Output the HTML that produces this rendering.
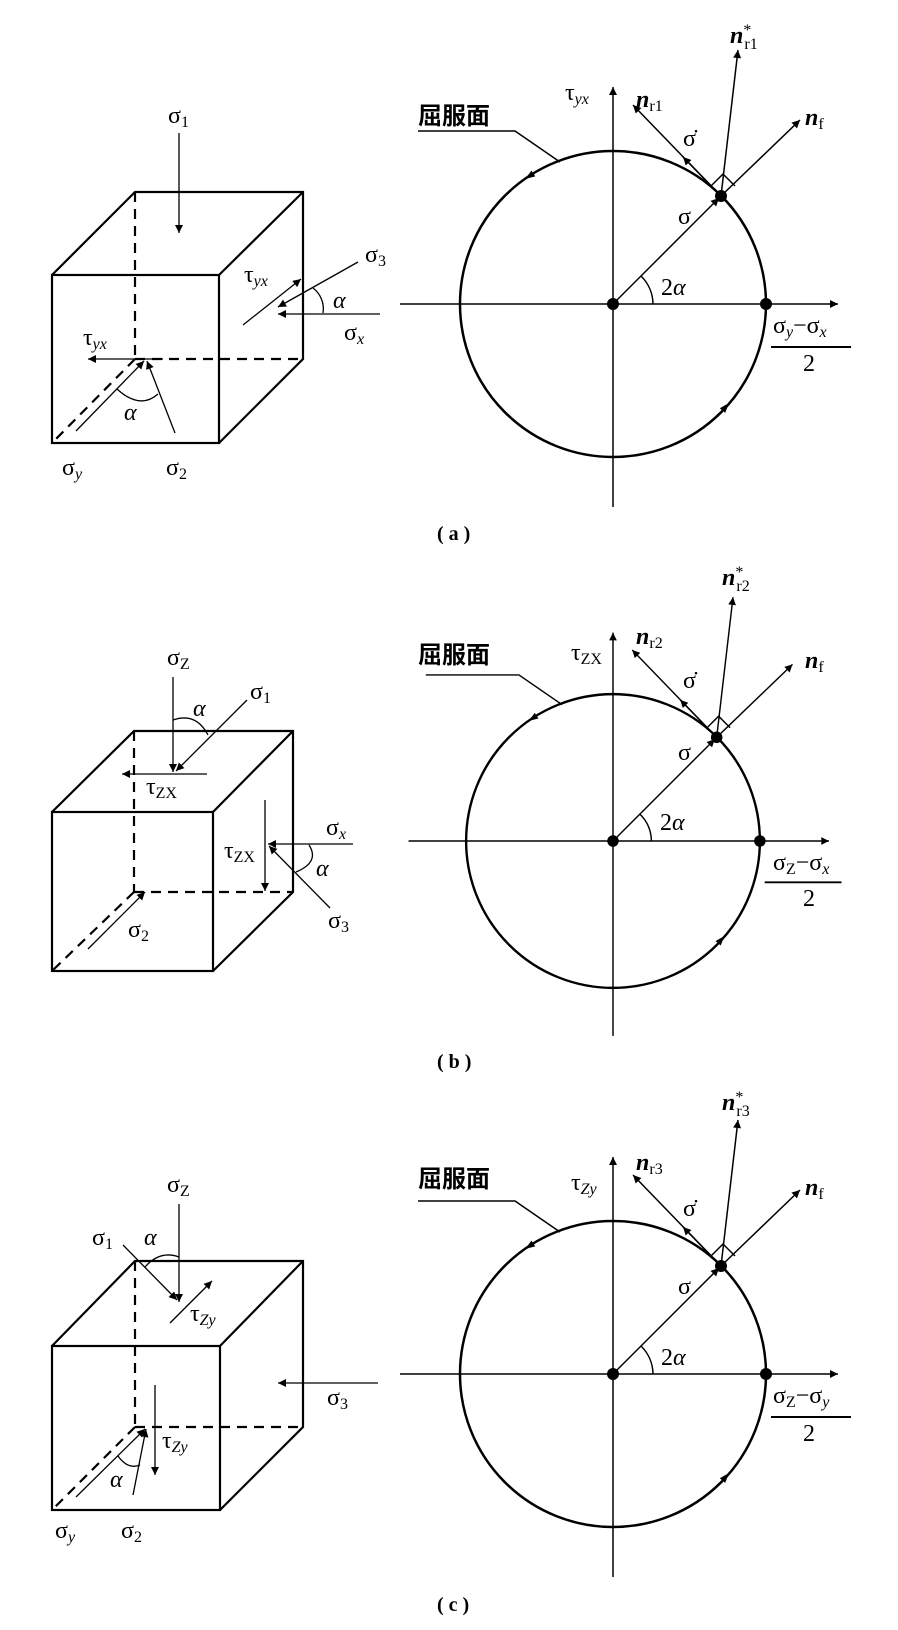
<!DOCTYPE html>
<html><head><meta charset="utf-8"><style>
html,body{margin:0;padding:0;background:#fff}
svg{display:block}
text{font-family:"Liberation Serif","Noto Serif CJK SC",serif;fill:#000}
.g{font-size:24px}
.s{font-size:16px}
.i{font-style:italic}
.b{font-weight:bold;font-style:italic}
.cj{font-family:"Liberation Serif","Noto Sans CJK SC",sans-serif;font-size:24px;font-weight:bold}
.lab{font-family:"Liberation Serif","Noto Serif CJK SC",serif;font-size:20px;font-weight:bold}
</style></head><body>
<svg width="898" height="1630" viewBox="0 0 898 1630" xmlns="http://www.w3.org/2000/svg">
<defs>
<marker id="ah" viewBox="0 0 10 10" refX="10" refY="5" markerWidth="14" markerHeight="8" markerUnits="userSpaceOnUse" orient="auto"><path d="M0,0 L10,5 L0,10 Z" fill="#000"/></marker>
<g id="circ">
  <circle cx="0" cy="0" r="153" fill="none" stroke="#000" stroke-width="2.5"/>
  <line x1="-213" y1="0" x2="225" y2="0" stroke="#000" stroke-width="1.5" marker-end="url(#ah)"/>
  <line x1="0" y1="203" x2="0" y2="-217" stroke="#000" stroke-width="1.5" marker-end="url(#ah)"/>
  <line x1="0" y1="0" x2="106" y2="-106" stroke="#000" stroke-width="1.5" marker-end="url(#ah)"/>
  <line x1="108" y1="-108" x2="187" y2="-184" stroke="#000" stroke-width="1.5" marker-end="url(#ah)"/>
  <line x1="108" y1="-108" x2="20" y2="-199" stroke="#000" stroke-width="1.5" marker-end="url(#ah)"/>
  <line x1="108" y1="-108" x2="125" y2="-254" stroke="#000" stroke-width="1.5" marker-end="url(#ah)"/>
  <line x1="108" y1="-108" x2="70" y2="-147" stroke="#000" stroke-width="1.5" marker-end="url(#ah)"/>
  <path d="M98,-118 L110,-130 L122,-118" fill="none" stroke="#000" stroke-width="1.5"/>
  <path d="M40,0 A40,40 0 0 0 28,-28" fill="none" stroke="#000" stroke-width="1.5"/>
  <circle cx="0" cy="0" r="6" fill="#000"/>
  <circle cx="153" cy="0" r="6" fill="#000"/>
  <circle cx="108" cy="-108" r="6" fill="#000"/>
  <path d="M-88,-125 L-77.7,-127.6 L-81.5,-133.4 Z" fill="#000"/>
  <path d="M116,99 L112.2,108.9 L106.8,104.3 Z" fill="#000"/>
  <polyline points="-195,-173 -98,-173 -53,-142" fill="none" stroke="#000" stroke-width="1.5"/>
  <line x1="158" y1="43" x2="238" y2="43" stroke="#000" stroke-width="2"/>
</g>
</defs>

<!-- ===== (a) cube ===== -->
<g stroke="#000" stroke-width="2.2" fill="none">
<rect x="52" y="275" width="167" height="168"/>
<polyline points="52,275 135,192 303,192 303,359 219,443"/>
<line x1="219" y1="275" x2="303" y2="192"/>
<g stroke-dasharray="10,7"><line x1="135" y1="192" x2="135" y2="359"/><line x1="135" y1="359" x2="303" y2="359"/><line x1="135" y1="359" x2="52" y2="443"/></g>
</g>
<g stroke="#000" stroke-width="1.3" fill="none">
<line x1="179" y1="133" x2="179" y2="233" marker-end="url(#ah)"/>
<line x1="243" y1="325" x2="301" y2="279" marker-end="url(#ah)"/>
<line x1="358" y1="262" x2="278" y2="307" marker-end="url(#ah)"/>
<line x1="380" y1="314" x2="278" y2="314" marker-end="url(#ah)"/>
<path d="M313,288 A26,26 0 0 1 323,313"/>
<line x1="163" y1="359" x2="88" y2="359" marker-end="url(#ah)"/>
<line x1="76" y1="431" x2="144" y2="361" marker-end="url(#ah)"/>
<line x1="175" y1="433" x2="147" y2="361" marker-end="url(#ah)"/>
<path d="M117,389 Q140,410 158,394"/>
</g>
<text x="168" y="123" class="g">σ<tspan class="s" dy="4">1</tspan></text>
<text x="244" y="282" class="g">τ<tspan class="s i" dy="4">yx</tspan></text>
<text x="365" y="262" class="g">σ<tspan class="s" dy="4">3</tspan></text>
<text x="333" y="308" class="g i">α</text>
<text x="344" y="340" class="g">σ<tspan class="s i" dy="4">x</tspan></text>
<text x="83" y="345" class="g">τ<tspan class="s i" dy="4">yx</tspan></text>
<text x="124" y="420" class="g i">α</text>
<text x="62" y="475" class="g">σ<tspan class="s i" dy="4">y</tspan></text>
<text x="166" y="475" class="g">σ<tspan class="s" dy="4">2</tspan></text>

<!-- ===== (a) circle ===== -->
<use href="#circ" x="613" y="304"/>
<text x="418" y="124" class="cj">屈服面</text>
<text x="565" y="100" class="g">τ<tspan class="s i" dy="4">yx</tspan></text>
<text x="636" y="107" class="g b">n<tspan class="s" font-weight="normal" font-style="normal" dy="4">r1</tspan></text>
<text x="730" y="43" class="g b">n<tspan class="s" font-weight="normal" font-style="normal" dy="-8">*</tspan><tspan class="s" font-weight="normal" font-style="normal" dx="-7" dy="14">r1</tspan></text>
<text x="805" y="125" class="g b">n<tspan class="s" font-weight="normal" font-style="normal" dy="4">f</tspan></text>
<text x="683" y="146" class="g">σ̇</text>
<text x="678" y="224" class="g">σ</text>
<text x="661" y="295" class="g">2<tspan class="i">α</tspan></text>
<text x="773" y="333" class="g">σ<tspan class="s i" dy="4">y</tspan><tspan dy="-4">−σ</tspan><tspan class="s i" dy="4">x</tspan></text>
<text x="803" y="371" class="g">2</text>
<text x="437" y="540" class="lab">( a )</text>

<!-- ===== (b) cube ===== -->
<g stroke="#000" stroke-width="2.2" fill="none">
<rect x="52" y="812" width="161" height="159"/>
<polyline points="52,812 134,731 293,731 293,892 213,971"/>
<line x1="213" y1="812" x2="293" y2="731"/>
<g stroke-dasharray="10,7"><line x1="134" y1="731" x2="134" y2="892"/><line x1="134" y1="892" x2="293" y2="892"/><line x1="134" y1="892" x2="52" y2="971"/></g>
</g>
<g stroke="#000" stroke-width="1.3" fill="none">
<line x1="173" y1="677" x2="173" y2="772" marker-end="url(#ah)"/>
<line x1="247" y1="700" x2="176" y2="771" marker-end="url(#ah)"/>
<path d="M173,720 Q196,712 208,735"/>
<line x1="207" y1="774" x2="122" y2="774" marker-end="url(#ah)"/>
<line x1="265" y1="800" x2="265" y2="891" marker-end="url(#ah)"/>
<line x1="353" y1="844" x2="268" y2="844" marker-end="url(#ah)"/>
<line x1="330" y1="908" x2="269" y2="846" marker-end="url(#ah)"/>
<path d="M309,845 Q320,862 296,872"/>
<line x1="88" y1="949" x2="145" y2="892" marker-end="url(#ah)"/>
</g>
<text x="167" y="665" class="g">σ<tspan class="s" dy="4">Z</tspan></text>
<text x="250" y="699" class="g">σ<tspan class="s" dy="4">1</tspan></text>
<text x="193" y="716" class="g i">α</text>
<text x="146" y="794" class="g">τ<tspan class="s" dy="4">ZX</tspan></text>
<text x="224" y="858" class="g">τ<tspan class="s" dy="4">ZX</tspan></text>
<text x="326" y="835" class="g">σ<tspan class="s i" dy="4">x</tspan></text>
<text x="316" y="876" class="g i">α</text>
<text x="328" y="928" class="g">σ<tspan class="s" dy="4">3</tspan></text>
<text x="128" y="937" class="g">σ<tspan class="s" dy="4">2</tspan></text>

<!-- ===== (b) circle ===== -->
<g transform="translate(613,841) scale(0.96)"><use href="#circ"/></g>
<text x="418" y="663" class="cj">屈服面</text>
<text x="571" y="660" class="g">τ<tspan class="s" dy="4">ZX</tspan></text>
<text x="636" y="644" class="g b">n<tspan class="s" font-weight="normal" font-style="normal" dy="4">r2</tspan></text>
<text x="722" y="585" class="g b">n<tspan class="s" font-weight="normal" font-style="normal" dy="-8">*</tspan><tspan class="s" font-weight="normal" font-style="normal" dx="-7" dy="14">r2</tspan></text>
<text x="805" y="668" class="g b">n<tspan class="s" font-weight="normal" font-style="normal" dy="4">f</tspan></text>
<text x="683" y="688" class="g">σ̇</text>
<text x="678" y="760" class="g">σ</text>
<text x="660" y="830" class="g">2<tspan class="i">α</tspan></text>
<text x="773" y="870" class="g">σ<tspan class="s" dy="4">Z</tspan><tspan dy="-4">−σ</tspan><tspan class="s i" dy="4">x</tspan></text>
<text x="803" y="906" class="g">2</text>
<text x="437" y="1068" class="lab">( b )</text>

<!-- ===== (c) cube ===== -->
<g stroke="#000" stroke-width="2.2" fill="none">
<rect x="52" y="1346" width="168" height="164"/>
<polyline points="52,1346 135,1261 303,1261 303,1427 220,1510"/>
<line x1="220" y1="1346" x2="303" y2="1261"/>
<g stroke-dasharray="10,7"><line x1="135" y1="1261" x2="135" y2="1427"/><line x1="135" y1="1427" x2="303" y2="1427"/><line x1="135" y1="1427" x2="52" y2="1510"/></g>
</g>
<g stroke="#000" stroke-width="1.3" fill="none">
<line x1="179" y1="1204" x2="179" y2="1302" marker-end="url(#ah)"/>
<line x1="123" y1="1245" x2="177" y2="1300" marker-end="url(#ah)"/>
<path d="M145,1267 Q160,1250 179,1257"/>
<line x1="170" y1="1323" x2="212" y2="1281" marker-end="url(#ah)"/>
<line x1="378" y1="1383" x2="278" y2="1383" marker-end="url(#ah)"/>
<line x1="155" y1="1385" x2="155" y2="1475" marker-end="url(#ah)"/>
<line x1="76" y1="1497" x2="145" y2="1429" marker-end="url(#ah)"/>
<line x1="133" y1="1495" x2="146" y2="1429" marker-end="url(#ah)"/>
<path d="M118,1456 Q128,1470 140,1465"/>
</g>
<text x="167" y="1192" class="g">σ<tspan class="s" dy="4">Z</tspan></text>
<text x="92" y="1245" class="g">σ<tspan class="s" dy="4">1</tspan></text>
<text x="144" y="1245" class="g i">α</text>
<text x="190" y="1321" class="g">τ<tspan class="s i" dy="4">Zy</tspan></text>
<text x="327" y="1405" class="g">σ<tspan class="s" dy="4">3</tspan></text>
<text x="162" y="1448" class="g">τ<tspan class="s i" dy="4">Zy</tspan></text>
<text x="110" y="1487" class="g i">α</text>
<text x="55" y="1538" class="g">σ<tspan class="s i" dy="4">y</tspan></text>
<text x="121" y="1538" class="g">σ<tspan class="s" dy="4">2</tspan></text>

<!-- ===== (c) circle ===== -->
<use href="#circ" x="613" y="1374"/>
<text x="418" y="1187" class="cj">屈服面</text>
<text x="571" y="1190" class="g">τ<tspan class="s i" dy="4">Zy</tspan></text>
<text x="636" y="1170" class="g b">n<tspan class="s" font-weight="normal" font-style="normal" dy="4">r3</tspan></text>
<text x="722" y="1110" class="g b">n<tspan class="s" font-weight="normal" font-style="normal" dy="-8">*</tspan><tspan class="s" font-weight="normal" font-style="normal" dx="-7" dy="14">r3</tspan></text>
<text x="805" y="1195" class="g b">n<tspan class="s" font-weight="normal" font-style="normal" dy="4">f</tspan></text>
<text x="683" y="1216" class="g">σ̇</text>
<text x="678" y="1294" class="g">σ</text>
<text x="661" y="1365" class="g">2<tspan class="i">α</tspan></text>
<text x="773" y="1403" class="g">σ<tspan class="s" dy="4">Z</tspan><tspan dy="-4">−σ</tspan><tspan class="s i" dy="4">y</tspan></text>
<text x="803" y="1441" class="g">2</text>
<text x="437" y="1611" class="lab">( c )</text>
</svg>
</body></html>
